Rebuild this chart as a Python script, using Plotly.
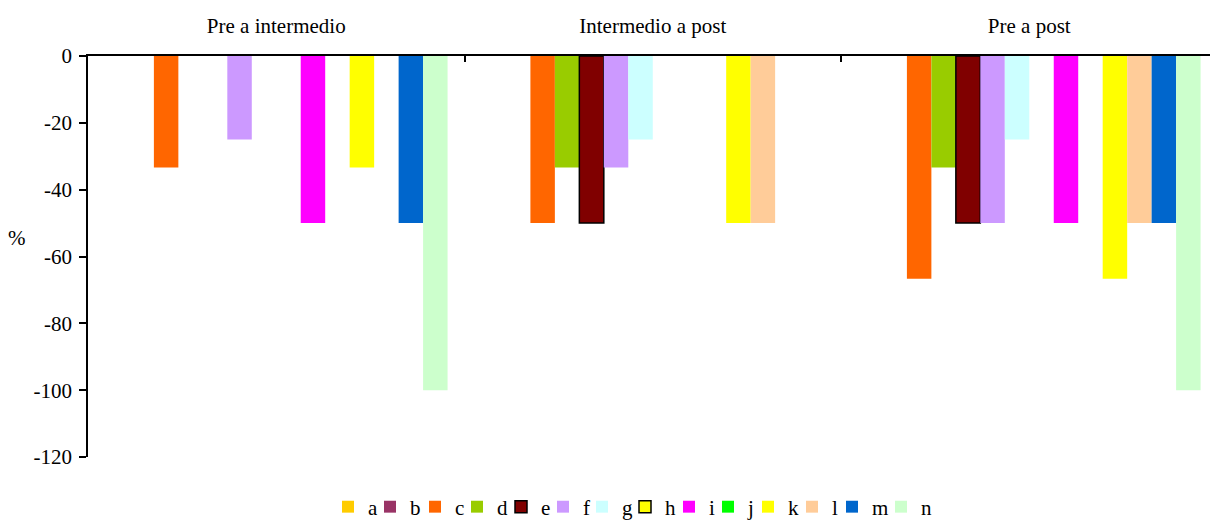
import plotly.graph_objects as go

# Comparison periods (x categories)
periods = ["Pre a intermedio", "Intermedio a post", "Pre a post"]

# Percent change per item and period (None = no change drawn)
a = [None, None, None]
b = [None, None, None]
c = [-33.33, -50, -66.67]
d = [None, -33.33, -33.33]
e = [None, -50, -50]
f = [-25, -33.33, -50]
g = [None, -25, -25]
h = [None, None, None]
i = [-50, None, -50]
j = [None, None, None]
k = [-33.33, -50, -66.67]
l = [None, -50, -50]
m = [-50, None, -50]
n = [-100, None, -100]

series_names = ["a", "b", "c", "d", "e", "f", "g", "h", "i", "j", "k", "l", "m", "n"]
series_values = [a, b, c, d, e, f, g, h, i, j, k, l, m, n]
series_colors = ["#FFCC00", "#993366", "#FF6600", "#99CC00", "#800000", "#CC99FF",
                 "#CCFFFF", "#FFFF00", "#FF00FF", "#00FF00", "#FFFF00", "#FFCC99",
                 "#0066CC", "#CCFFCC"]
outlined = {"e", "h"}

y_ticks = [0, -20, -40, -60, -80, -100, -120]

FONT = "Liberation Serif, Times New Roman, serif"
FS = 21

W, H = 1210, 521
ML, MR, MT, MB = 88, 0, 56, 64
plot_w = W - ML - MR
plot_h = H - MT - MB

# Left edge (px) of each legend key, one legend box per series in a row
legend_key_px = [342, 384, 429, 471, 515, 557, 596, 639, 683, 722, 762, 806, 846, 895]
legend_row_px = 507
KEY_OFFSET = 14  # key square sits this far right of its legend box origin

fig = go.Figure()
legend_layouts = {}
for idx, (name, vals, col) in enumerate(zip(series_names, series_values, series_colors)):
    lid = "legend" if idx == 0 else f"legend{idx + 1}"
    fig.add_trace(go.Bar(
        name=name,
        x=periods,
        y=vals,
        legend=lid,
        marker=dict(
            color=col,
            line=dict(color="black", width=1.5 if name in outlined else 0),
        ),
    ))
    legend_layouts[lid] = dict(
        orientation="h",
        x=(legend_key_px[idx] - KEY_OFFSET - ML) / plot_w,
        xanchor="left",
        y=(MT + plot_h - legend_row_px) / plot_h,
        yanchor="middle",
        font=dict(family=FONT, size=FS, color="black"),
        itemclick=False,
        itemdoubleclick=False,
        bgcolor="rgba(0,0,0,0)",
        borderwidth=0,
    )

fig.update_layout(
    width=W,
    height=H,
    margin=dict(l=ML, r=MR, t=MT, b=MB, autoexpand=False),
    paper_bgcolor="white",
    plot_bgcolor="white",
    barmode="group",
    bargap=0.09,
    bargroupgap=0,
    font=dict(family=FONT, size=FS, color="black"),
    showlegend=True,
    xaxis=dict(
        type="category",
        side="top",
        range=[-0.5, 2.48],
        showline=True,
        linecolor="black",
        linewidth=1.5,
        ticks="inside",
        ticklen=6,
        tickwidth=1.5,
        tickcolor="black",
        tickson="boundaries",
        ticklabelstandoff=13,
        showgrid=False,
        zeroline=False,
        tickfont=dict(family=FONT, size=FS, color="black"),
    ),
    yaxis=dict(
        range=[-120, 0],
        tickvals=y_ticks,
        ticktext=[str(v) for v in y_ticks],
        showline=True,
        linecolor="black",
        linewidth=1.5,
        ticks="outside",
        ticklen=7,
        tickwidth=1.5,
        tickcolor="black",
        ticklabelstandoff=3,
        showgrid=False,
        zeroline=False,
        tickfont=dict(family=FONT, size=FS, color="black"),
    ),
    annotations=[
        dict(
            text="%",
            xref="paper", yref="paper",
            x=-0.063, y=0.545,
            xanchor="center", yanchor="middle",
            showarrow=False,
            font=dict(family=FONT, size=FS, color="black"),
        )
    ],
    **legend_layouts,
)

fig.write_html("out.html")
